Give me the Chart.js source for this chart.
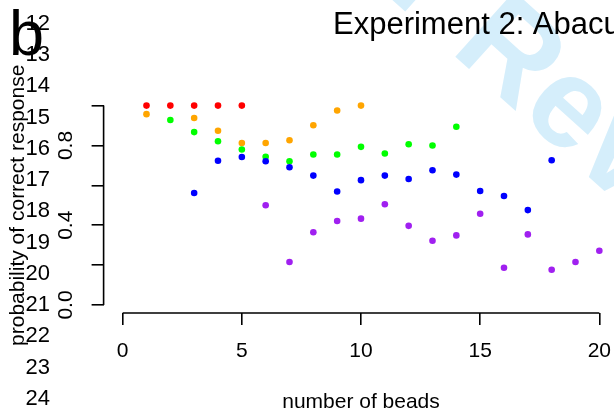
<!DOCTYPE html>
<html>
<head>
<meta charset="utf-8">
<script src="https://cdn.jsdelivr.net/npm/chart.js@4"></script>
<style>
  html, body { margin: 0; padding: 0; overflow: hidden; background: #fff; }
  #wrap { width: 640px; height: 412px; }
</style>
</head>
<body>
<div id="wrap"><canvas id="graph" width="640" height="412"></canvas></div>
<script>
// proportion correct by number of beads, one series per condition
const redBeads = [1, 2, 3, 4, 5]
const redProb = [1, 1, 1, 1, 1]

const orangeBeads = [1, 3, 4, 5, 6, 7, 8, 9, 10]
const orangeProb = [0.957, 0.938, 0.874, 0.812, 0.812, 0.826, 0.901, 0.975, 1]

const greenBeads = [2, 3, 4, 5, 6, 7, 8, 9, 10, 11, 12, 13, 14]
const greenProb = [0.928, 0.867, 0.821, 0.780, 0.743, 0.721, 0.755, 0.755, 0.793, 0.760, 0.806, 0.800, 0.894]

const blueBeads = [3, 4, 5, 6, 7, 8, 9, 10, 11, 12, 13, 14, 15, 16, 17, 18]
const blueProb = [0.562, 0.723, 0.742, 0.721, 0.691, 0.649, 0.569, 0.626, 0.649, 0.632, 0.676, 0.654, 0.572, 0.547, 0.476, 0.726]

const purpleBeads = [6, 7, 8, 9, 10, 11, 12, 13, 14, 15, 16, 17, 18, 19, 20]
const purpleProb = [0.500, 0.216, 0.365, 0.421, 0.433, 0.505, 0.397, 0.322, 0.349, 0.458, 0.187, 0.354, 0.177, 0.216, 0.272]

const xTicks = [0, 5, 10, 15, 20]
const yTicks = [0, 0.2, 0.4, 0.6, 0.8, 1]
const yTickLabels = ['0.0', '', '0.4', '', '0.8', '']

const lineNumbers = [11, 12, 13, 14, 15, 16, 17, 18, 19, 20, 21, 22, 23, 24]

const fam = '"Liberation Sans", Arial, sans-serif'
Chart.defaults.font.family = fam
Chart.defaults.color = '#000'

function pts(xs, ys) {
	return xs.map((x, i) => ({x: x, y: ys[i]}))
}

// axis lines only span the first to last tick, like base R
const rAxes = {
	id: 'rAxes',
	afterDraw(chart) {
		const {ctx, chartArea, scales} = chart
		ctx.save()
		ctx.strokeStyle = '#000'
		ctx.lineWidth = 1.6
		ctx.beginPath()
		ctx.moveTo(scales.x.getPixelForValue(xTicks[0]), chartArea.bottom)
		ctx.lineTo(scales.x.getPixelForValue(xTicks[xTicks.length - 1]), chartArea.bottom)
		ctx.moveTo(chartArea.left, scales.y.getPixelForValue(yTicks[0]))
		ctx.lineTo(chartArea.left, scales.y.getPixelForValue(yTicks[yTicks.length - 1]))
		ctx.stroke()
		ctx.restore()
	}
}

// page furniture: watermark, panel letter, line numbers, title
const paperText = {
	id: 'paperText',
	beforeDraw(chart) {
		const ctx = chart.ctx
		ctx.save()
		ctx.fillStyle = '#d5eefb'
		ctx.font = 'bold 128px ' + fam
		ctx.translate(449, 51)
		ctx.rotate(42 * Math.PI / 180)
		ctx.fillText('For Review Only', -ctx.measureText('For ').width, 0)
		ctx.restore()
	},
	afterDraw(chart) {
		const ctx = chart.ctx
		ctx.save()
		ctx.fillStyle = '#000'
		ctx.textBaseline = 'alphabetic'

		ctx.font = '63px ' + fam
		ctx.textAlign = 'left'
		ctx.fillText('b', 9, 55)

		ctx.font = '22px ' + fam
		ctx.textAlign = 'right'
		lineNumbers.forEach(n => {
			ctx.fillText(String(n), 50, 29.8 + (n - 12) * 31.25)
		})

		ctx.font = '31px ' + fam
		ctx.textAlign = 'left'
		ctx.fillText('Experiment 2: Abacus', 333, 34)
		ctx.restore()
	}
}

const ctx = document.getElementById('graph')

new Chart(ctx, {
	type: 'scatter',
	data: {
		datasets: [
			{label: 'red', data: pts(redBeads, redProb), backgroundColor: '#ff0000', order: 5},
			{label: 'orange', data: pts(orangeBeads, orangeProb), backgroundColor: '#ffa500', order: 4},
			{label: 'green', data: pts(greenBeads, greenProb), backgroundColor: '#00ff00', order: 3},
			{label: 'blue', data: pts(blueBeads, blueProb), backgroundColor: '#0000ff', order: 2},
			{label: 'purple', data: pts(purpleBeads, purpleProb), backgroundColor: '#a020f0', order: 1}
		]
	},
	options: {
		responsive: false,
		animation: false,
		devicePixelRatio: 1,
		layout: {padding: {top: 97.6, right: 21.6, left: 0, bottom: 0}},
		elements: {point: {radius: 3.3, hoverRadius: 3.3, borderWidth: 0}},
		plugins: {legend: {display: false}, tooltip: {enabled: false}},
		scales: {
			x: {
				type: 'linear',
				min: -0.8,
				max: 20.8,
				afterBuildTicks: s => { s.ticks = xTicks.map(v => ({value: v})) },
				afterFit: s => { s.height = 99 },
				grid: {drawOnChartArea: false, tickLength: 12, color: '#000', lineWidth: 1.6},
				border: {display: false},
				ticks: {font: {size: 21}, padding: 14, maxRotation: 0, autoSkip: false, callback: v => String(v)},
				title: {display: true, text: 'number of beads', font: {size: 21, lineHeight: 0.9}, padding: 0}
			},
			y: {
				type: 'linear',
				min: -0.04,
				max: 1.04,
				afterBuildTicks: s => { s.ticks = yTicks.map(v => ({value: v})) },
				afterFit: s => { s.width = 103.6 },
				grid: {drawOnChartArea: false, tickLength: 12, color: '#000', lineWidth: 1.6},
				border: {display: false},
				ticks: {font: {size: 21}, padding: 11, minRotation: 90, maxRotation: 90, crossAlign: 'center', autoSkip: false,
					callback: (v, i) => yTickLabels[i]},
				title: {display: true, text: 'probability of correct response', font: {size: 21}, padding: {top: 5.4, bottom: 0}}
			}
		}
	},
	plugins: [rAxes, paperText]
})
</script>
</body>
</html>
